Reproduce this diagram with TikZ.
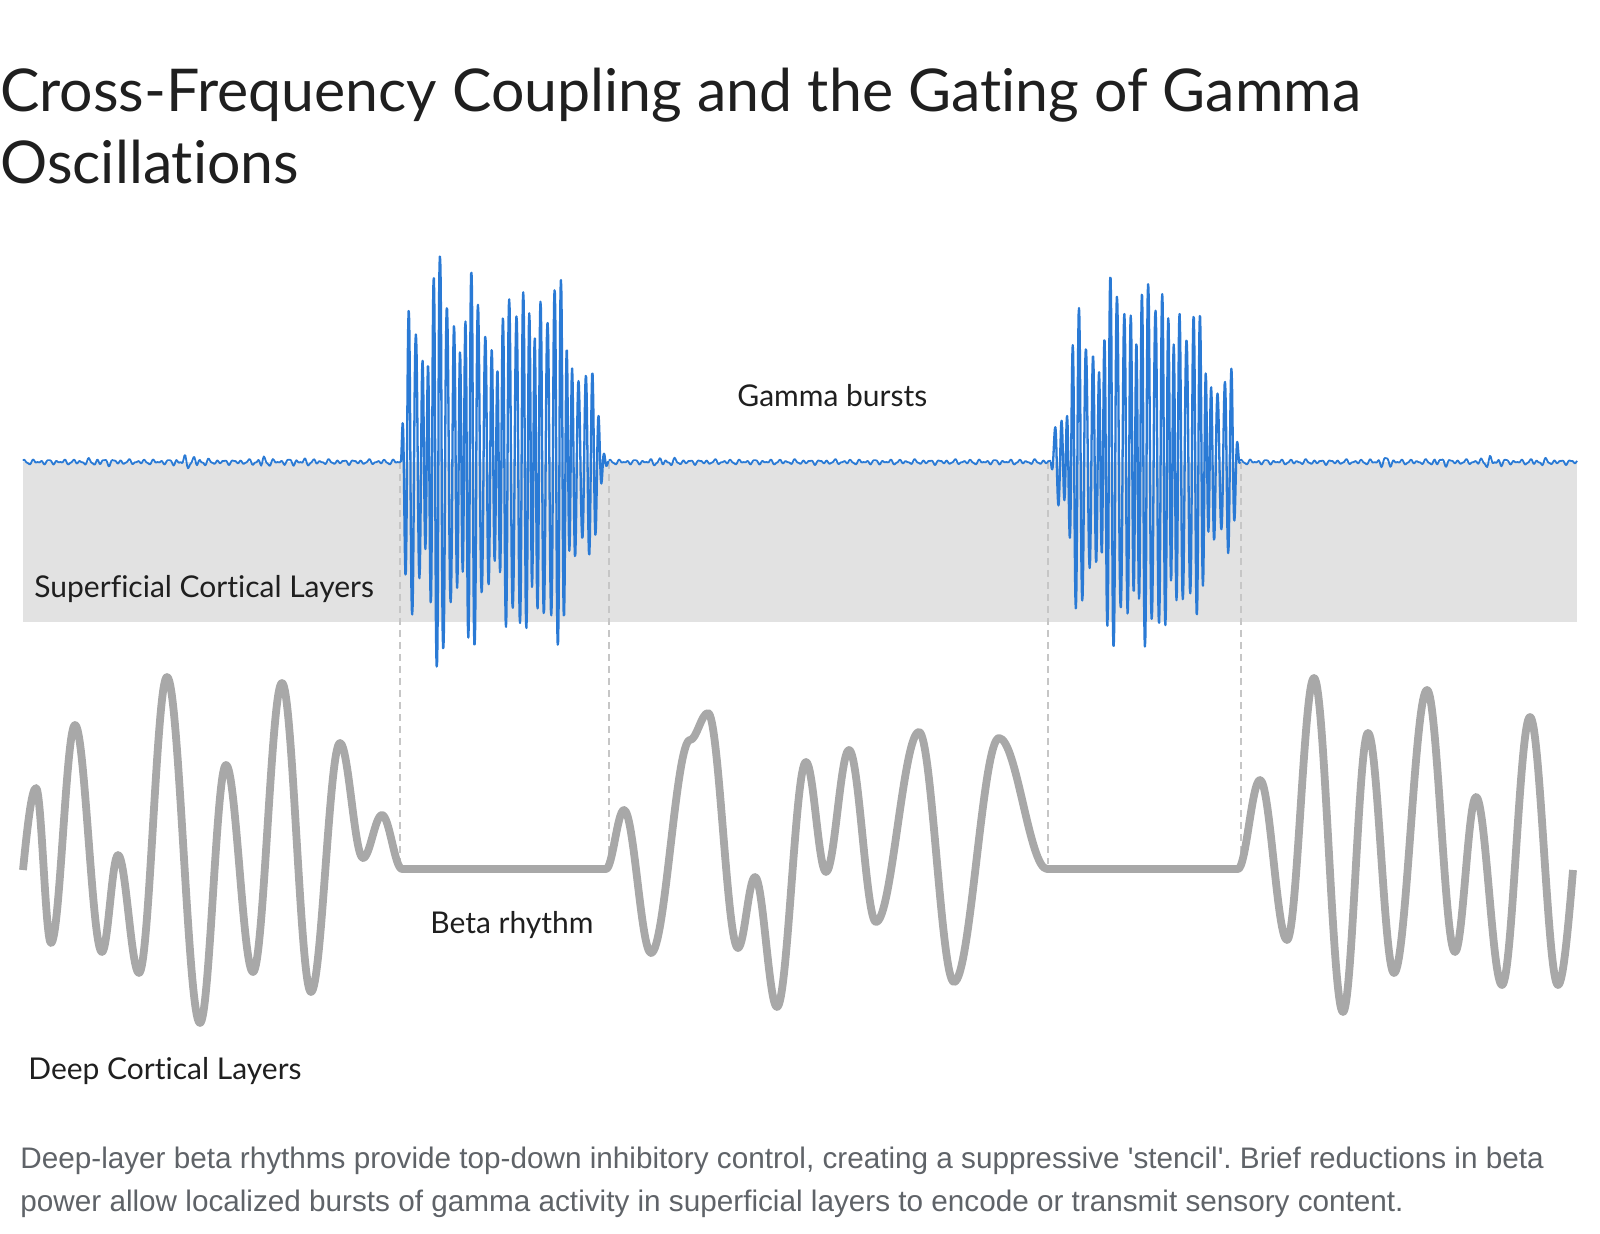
\documentclass[tikz,border=0pt]{standalone}
\usepackage{fontspec}
\setmainfont{Lato}[Ligatures=NoCommon]
\newfontfamily\notefont{Liberation Sans}
\usetikzlibrary{positioning,calc}
\definecolor{ink}{HTML}{1F1F1F}
\definecolor{gammablue}{HTML}{2A7AD5}
\definecolor{bandgrey}{HTML}{E2E2E2}
\definecolor{betagrey}{HTML}{A8A8A8}
\definecolor{guidegrey}{HTML}{C6C6C6}
\definecolor{notegrey}{HTML}{5F6368}

\begin{document}
\begin{tikzpicture}[x=0.5pt,y=-0.5pt,
    headline/.style={anchor=base west,inner sep=0pt,text=ink,
                     font=\fontsize{29.5}{34}\selectfont},
    lbl/.style={anchor=base west,inner sep=0pt,text=ink,
                font=\fontsize{15}{17}\selectfont},
    note/.style={anchor=base west,inner sep=0pt,text=notegrey,
                 font=\notefont\fontsize{14.85}{17}\selectfont\frenchspacing},
    noiseline/.style={draw=gammablue,line width=0.9pt,line join=round},
    gammaline/.style={draw=gammablue,line width=1.15pt,line join=round},
    betaline/.style={draw=betagrey,line width=3.9pt,line join=round},
    guide/.style={draw=guidegrey,line width=0.7pt,dash pattern=on 3.5pt off 2.5pt},
    declare function={
      bump(\x,\c,\w)=max(0,1-abs(\x-\c)/\w);
      nz(\t)=(sin(45*\t)+0.5*sin(78*\t+40)+0.6*sin(27*\t+110))/2;
      amp(\x)=3+6*bump(\x,185,14)+4*bump(\x,200,10)+5*bump(\x,262,12)
              +2*bump(\x,300,20)+2*bump(\x,100,25)+2.5*bump(\x,665,20)
              +4*bump(\x,1385,16)+3*bump(\x,1440,14)+5*bump(\x,1492,16)
              +2*bump(\x,1540,15);
      car(\t)=(0.5*sin(57*\t)+0.3*sin(47*\t+70)+0.2*sin(68*\t+20))
              *(0.85+0.15*sin(11*\t+30));
      squash(\v)=240*tanh(\v/240);
      envA(\t)=370*min(1,\t/12)*min(1,(208-\t)/48)*(1-0.3*bump(\t,92,28));
      envB(\t)=375*min(1,\t/5)*min(1,(189-\t)/8)*(0.25+0.75*sin(0.9524*\t));
    }]
  \useasboundingbox (0,0) rectangle (1600,1234);

  % title
  \node[headline] (title) at (0,112) {Cross-Frequency Coupling and the Gating of Gamma};
  \node[headline] (title2) at ($(title.base west)+(0,72)$) {Oscillations};

  % superficial band
  \fill[bandgrey] (23,462) rectangle (1577,622);

  \coordinate (a1) at (400,462);
  \coordinate (a2) at (609,462);
  \coordinate (b1) at (1048,462);
  \coordinate (b2) at (1241,462);
  \foreach \c in {a1,a2,b1,b2}
    \draw[guide] (\c) -- ++(0,402);

  % gamma trace
  \draw[noiseline] plot[domain=23:401,samples=420] (\x,{462-amp(\x)*nz(mod(\x-23,120))});
  \draw[noiseline] plot[domain=609:1051,samples=480] (\x,{462-amp(\x)*nz(mod(\x-609,120))});
  \draw[noiseline] plot[domain=1240:1577,samples=380] (\x,{462-amp(\x)*nz(mod(\x-1240,120))});
  \draw[gammaline] plot[domain=0:208,samples=520] ({401+\x},{462-squash(envA(\x)*car(\x))});
  \draw[gammaline] plot[domain=0:189,samples=480] ({1051+\x},{462-squash(envB(\x)*car(\x+11))});

  % beta trace
  \draw[betaline] (23,870) .. controls (27.3,827) and (31.7,788) .. (36,788)
    \foreach \x/\y [remember=\x as \lx (initially 36),
                    remember=\y as \ly (initially 788)] in
      {51/943,75/725,102/952,118/855,139/973,167/677,200/1023,226/765,
       253/972,282/683,311/992,340/743,363/858,382/815,402/869,606/869,
       624/810,651/953,690/740,708/713,738/948,755/877,777/1007,806/762,
       826/872,849/750,876/922,919/732,954/982,999/738,1047/869,1238/869,
       1260/780,1287/940,1314/678,1343/1012,1368/733,1394/973,1427/690,
       1455/952,1476/797,1502/985,1530/717,1558/985}
      { .. controls ({\lx+0.3634*(\x-\lx)},\ly) and ({\x-0.3634*(\x-\lx)},\y) .. (\x,\y) }
    .. controls (1563,985) and (1568,930) .. (1573,870);

  % labels
  \node[lbl] (gamma) at (737,407) {Gamma bursts};
  \node[lbl] (superf) at (34,598) {Superficial Cortical Layers};
  \node[lbl] (beta) at (430,933) {Beta rhythm};
  \node[lbl] (deep) at (28,1079) {Deep Cortical Layers};

  % caption
  \node[note] (note1) at (20,1168) {Deep-layer beta rhythms provide top-down inhibitory control, creating a suppressive \textquotesingle stencil\textquotesingle. Brief reductions in beta};
  \node[note] (note2) at ($(note1.base west)+(0,43)$) {power allow localized bursts of gamma activity in superficial layers to encode or transmit sensory content.};
\end{tikzpicture}
\end{document}
